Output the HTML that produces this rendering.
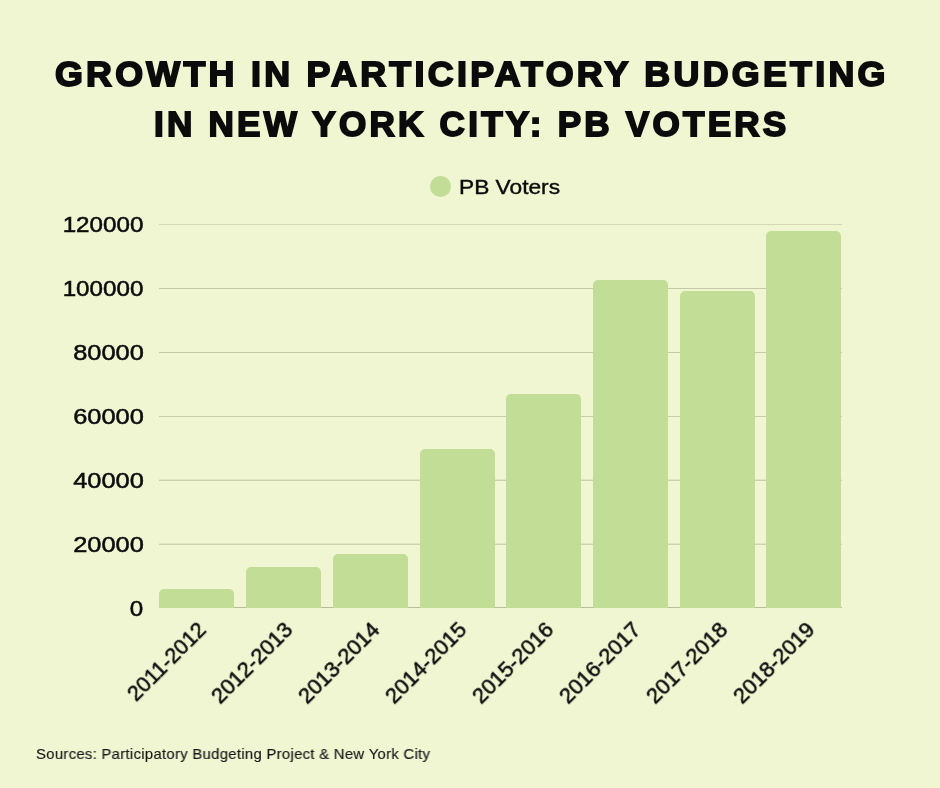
<!DOCTYPE html>
<html><head><meta charset="utf-8"><title>Growth in Participatory Budgeting in New York City: PB Voters</title>
<style>
html,body{margin:0;padding:0}
.t,.yl,.xl,.legt,.src{will-change:transform}
body{width:940px;height:788px;overflow:hidden;background:#F1F6D2;position:relative;font-family:"Liberation Sans",Arial,sans-serif;color:#0b0b0b}
.t{position:absolute;left:0;width:940px;text-align:center;font-weight:bold;font-size:35px;line-height:37px;letter-spacing:3.2px;white-space:nowrap;-webkit-text-stroke:1.8px #0b0b0b}
.t span{display:inline-block;transform-origin:50% 50%}
.grid{position:absolute;left:159px;width:683px;height:1px;background:#C9CEAA}
.bar{position:absolute;width:75px;background:#C2DD96;border-radius:5px 5px 0 0}
.yl{position:absolute;right:797px;-webkit-text-stroke:0.5px #0b0b0b;transform:scaleX(1.10);font-size:22px;line-height:22px;white-space:nowrap;transform-origin:100% 50%}
.xl{position:absolute;font-size:21.4px;line-height:21px;-webkit-text-stroke:0.5px #0b0b0b;white-space:nowrap;transform-origin:100% 50%}
.leg{position:absolute;left:429.5px;top:175.8px;width:21px;height:21px;border-radius:50%;background:#C2DD96}
.legt{position:absolute;left:459.2px;top:175.7px;-webkit-text-stroke:0.4px #0b0b0b;transform:scaleX(1.082);transform-origin:0 50%;font-size:21px;line-height:22px;white-space:nowrap}
.src{position:absolute;left:36px;top:744.1px;transform:scaleX(0.991);transform-origin:0 50%;font-size:15px;line-height:20px;letter-spacing:0.3px;white-space:nowrap;color:#161616;-webkit-text-stroke:0.15px #161616}
</style></head><body>
<div class="t" style="top:55.1px"><span id="t1" style="transform:translateX(1.50px) scaleX(1.0235)">GROWTH IN PARTICIPATORY BUDGETING</span></div>
<div class="t" style="top:105.3px"><span id="t2" style="transform:translateX(2.00px) scaleX(1.0032)">IN NEW YORK CITY: PB VOTERS</span></div>

<div class="leg"></div>
<div class="legt" id="legt">PB Voters</div>

<div class="grid" style="top:224px;background:#D4D9B4"></div>
<div class="grid" style="top:288px;background:#C3C8A6"></div>
<div class="grid" style="top:352px;background:#C4C9A7"></div>
<div class="grid" style="top:416px;background:#C7CCAA"></div>
<div class="grid" style="top:479px;background:#E2E7C3"></div>
<div class="grid" style="top:480px;background:#CACFAC"></div>
<div class="grid" style="top:543px;background:#E2E7C3"></div>
<div class="grid" style="top:544px;background:#CDD2AF"></div>
<div class="grid" style="top:607px;background:#B9BD9F"></div>

<div class="yl" style="top:214px">120000</div>
<div class="yl" style="top:278px">100000</div>
<div class="yl" style="top:342px;transform:translateX(0.7px) scaleX(1.155)">80000</div>
<div class="yl" style="top:406px;transform:translateX(0.7px) scaleX(1.155)">60000</div>
<div class="yl" style="top:470px;transform:translateX(0.7px) scaleX(1.155)">40000</div>
<div class="yl" style="top:534px;transform:translateX(0.7px) scaleX(1.155)">20000</div>
<div class="yl" style="top:598px">0</div>

<div class="bar" style="left:159px;top:589px;height:19px"></div>
<div class="bar" style="left:246px;top:567px;height:41px"></div>
<div class="bar" style="left:333px;top:554px;height:54px"></div>
<div class="bar" style="left:419.6px;top:448.7px;height:159.3px"></div>
<div class="bar" style="left:506.2px;top:394.2px;height:213.8px"></div>
<div class="bar" style="left:593px;top:279.6px;height:328.4px"></div>
<div class="bar" style="left:679.8px;top:291.2px;height:316.8px"></div>
<div class="bar" style="left:766.4px;top:231.2px;height:376.8px"></div>

<div class="xl" style="right:737.5px;top:616px;transform:rotate(-45deg)">2011-2012</div>
<div class="xl" style="right:650.5px;top:616px;transform:rotate(-45deg) scaleX(1.02)">2012-2013</div>
<div class="xl" style="right:563.5px;top:616px;transform:rotate(-45deg) scaleX(1.02)">2013-2014</div>
<div class="xl" style="right:476.5px;top:616px;transform:rotate(-45deg) scaleX(1.02)">2014-2015</div>
<div class="xl" style="right:389.5px;top:616px;transform:rotate(-45deg) scaleX(1.02)">2015-2016</div>
<div class="xl" style="right:302.5px;top:616px;transform:rotate(-45deg) scaleX(1.02)">2016-2017</div>
<div class="xl" style="right:215.5px;top:616px;transform:rotate(-45deg) scaleX(1.02)">2017-2018</div>
<div class="xl" style="right:128.5px;top:616px;transform:rotate(-45deg) scaleX(1.02)">2018-2019</div>

<div class="src">Sources: Participatory Budgeting Project &amp; New York City</div>
</body></html>
